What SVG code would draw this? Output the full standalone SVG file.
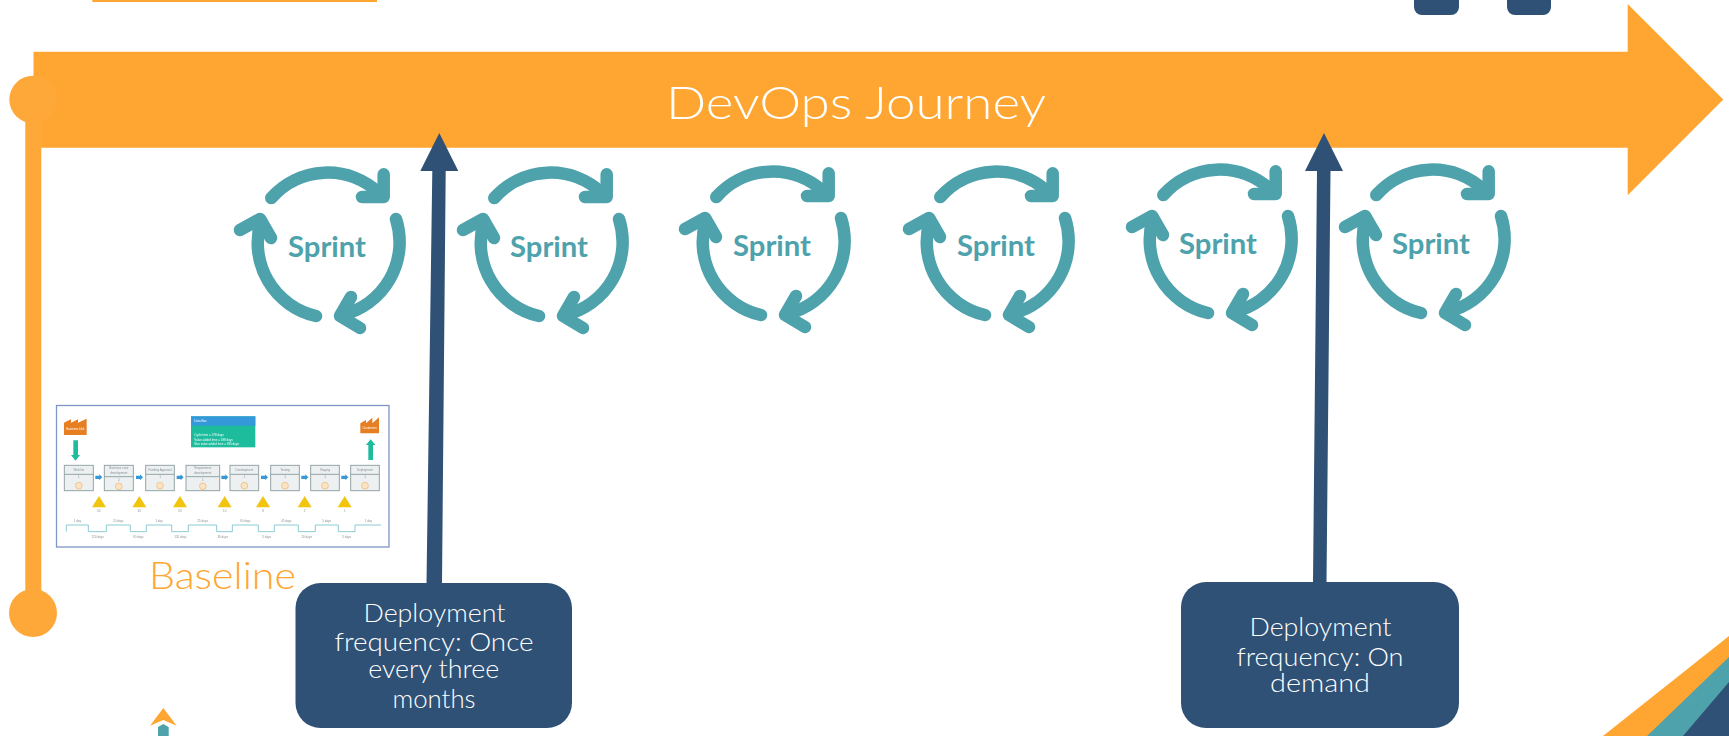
<svg xmlns="http://www.w3.org/2000/svg" xmlns:xlink="http://www.w3.org/1999/xlink" width="1729" height="736" viewBox="0 0 1729 736">
<style>
.or{fill:#FFA632}.nv{fill:#2F5176}.tl{fill:#4EA2AC}
.lab{font-family:"Lato","Noto Sans","Liberation Sans",sans-serif;font-weight:300;text-anchor:middle}
.w{fill:#fff;font-size:25px}
.spr{font-family:"Lato","Liberation Sans",sans-serif;font-weight:700;font-size:28px;fill:#4EA2AC;text-anchor:middle}
.ring{fill:none;stroke:#4EA2AC;stroke-width:12.5;stroke-linecap:round;stroke-linejoin:round}
.pb{fill:#ECF0F1;stroke:#95A5A6;stroke-width:3}
.pl{fill:none;stroke:#95A5A6;stroke-width:3}
.t{font-family:"Liberation Sans",sans-serif;font-size:9px;fill:#8a9396;text-anchor:middle}
.dt{font-family:"Liberation Sans",sans-serif;font-size:9px;fill:#fff}
.sm{fill:#F1C40F}.ba{fill:#3498DB}.gr{fill:#1ABC9C}.fa{fill:#E67E22}
.kn{fill:#FCE3C4;stroke:#F0C48C;stroke-width:3}
</style>
<defs>
<g id="ring">
<path class="ring" d="M-55.7-49A75 75 0 0 1 52-54"/><path class="ring" d="M56.7-72.7V-50H35"/>
<path class="ring" d="M69-28A75 75 0 0 1 15 68"/><path class="ring" d="M24 50L13 69L33 81"/>
<path class="ring" d="M-11 69A75 75 0 0 1-66-26"/><path class="ring" d="M-87-17L-67-28L-56-9"/>
</g>
<filter id="soft" x="-2%" y="-2%" width="104%" height="104%"><feGaussianBlur stdDeviation="1.6"/></filter>
</defs>

<g id="top-bar"><rect class="or" x="92.3" y="0" width="284.7" height="2"/></g>
<g id="top-box-1"><rect class="nv" x="1414" y="-20" width="45" height="35" rx="8"/></g>
<g id="top-box-2"><rect class="nv" x="1507" y="-20" width="44" height="35" rx="8"/></g>

<g id="journey-arrow">
<path class="or" d="M33.5 51.7H1627.7V4L1723.3 99.5L1627.7 195.3V147.7H33.5Z"/>
<text class="lab" x="856" y="118.500" font-size="46" fill="#fff" textLength="380" lengthAdjust="spacingAndGlyphs">DevOps Journey</text>
</g>

<g id="timeline">
<rect x="25.3" y="110" width="16" height="503" fill="#FFA83A"/>
<circle cx="33" cy="99.5" r="23.7" fill="#FFA83A"/>
<circle cx="33" cy="613" r="24" fill="#FFA83A"/>
</g>

<g id="sprint-1"><use xlink:href="#ring" href="#ring" x="327" y="247"/><text class="spr" x="327" y="257" textLength="78" lengthAdjust="spacingAndGlyphs">Sprint</text></g>
<g id="sprint-2"><use xlink:href="#ring" href="#ring" x="550" y="247"/><text class="spr" x="549" y="257" textLength="78" lengthAdjust="spacingAndGlyphs">Sprint</text></g>
<g id="sprint-3"><use xlink:href="#ring" href="#ring" x="772" y="246"/><text class="spr" x="772" y="256" textLength="78" lengthAdjust="spacingAndGlyphs">Sprint</text></g>
<g id="sprint-4"><use xlink:href="#ring" href="#ring" x="996" y="246"/><text class="spr" x="996" y="256" textLength="78" lengthAdjust="spacingAndGlyphs">Sprint</text></g>
<g id="sprint-5"><use xlink:href="#ring" href="#ring" x="1219" y="244"/><text class="spr" x="1218" y="254" textLength="78" lengthAdjust="spacingAndGlyphs">Sprint</text></g>
<g id="sprint-6"><use xlink:href="#ring" href="#ring" x="1432" y="244"/><text class="spr" x="1431" y="254" textLength="78" lengthAdjust="spacingAndGlyphs">Sprint</text></g>

<g id="connectors">
<path class="nv" d="M439.3 133L458.3 171H445.7L442 583H426.5L432.3 171H420.3Z"/>
<path class="nv" d="M1324 133L1343 171H1330.5L1326.5 582H1313L1317 171H1305Z"/>
</g>

<g id="deploy-box-1">
<rect class="nv" x="295.5" y="583" width="276.5" height="145" rx="25"/>
<text class="lab w" x="434.500" y="622" textLength="142" lengthAdjust="spacingAndGlyphs">Deployment</text>
<text class="lab w" x="434" y="651" textLength="199" lengthAdjust="spacingAndGlyphs">frequency: Once</text>
<text class="lab w" x="433.700" y="678" textLength="131" lengthAdjust="spacingAndGlyphs">every three</text>
<text class="lab w" x="434" y="708" textLength="83" lengthAdjust="spacingAndGlyphs">months</text>
</g>
<g id="deploy-box-2">
<rect class="nv" x="1181" y="582" width="278" height="146" rx="25"/>
<text class="lab w" x="1320.500" y="636" textLength="142" lengthAdjust="spacingAndGlyphs">Deployment</text>
<text class="lab w" x="1320" y="665.500" textLength="167" lengthAdjust="spacingAndGlyphs">frequency: On</text>
<text class="lab w" x="1320" y="691.500" textLength="100" lengthAdjust="spacingAndGlyphs">demand</text>
</g>

<g id="baseline-map">
<rect x="56.5" y="405.5" width="332.5" height="141.5" fill="#fff" stroke="#7F96C4" stroke-width="1.3"/>
<g transform="translate(40 390) scale(.33333)" filter="url(#soft)">
<g id="supplier"><path class="fa" d="M72 135V98L93 88V98L114 88V98L140 86V135Z"/><text class="dt" x="106" y="119" style="text-anchor:middle">Business Unit</text></g>
<g id="customer"><path class="fa" d="M961 130V100L978 90V100L997 83V100L1017 82V130Z"/><text class="dt" x="989" y="116" style="text-anchor:middle">Customers</text></g>
<path class="gr" d="M100 151H114V195H120L106.500 212L93 195H100Z"/>
<path class="gr" d="M985 210V165H978L992 148L1006 165H999V210Z"/>
<g id="data-box"><rect x="453" y="79" width="193" height="93" class="gr"/><rect x="453" y="79" width="193" height="28" class="ba"/>
<text class="dt" x="463" y="95">Data Box</text><text class="dt" x="463" y="139">Cycle time = 578 days</text><text class="dt" x="463" y="152">Value added time = 188 days</text><text class="dt" x="463" y="165">Non value added time = 390 days</text></g>

<g id="step-1"><rect class="pb" x="73" y="226" width="87" height="76"/><path class="pl" d="M73 253H160"/><circle class="kn" cx="116.500" cy="287" r="10"/><text class="t" x="116.500" y="244">Web list</text><text class="t" x="116.500" y="264">1</text></g>
<g id="step-2"><rect class="pb" x="193" y="226" width="87" height="76"/><path class="pl" d="M193 260H280"/><circle class="kn" cx="236.500" cy="289" r="10"/><text class="t" x="236.500" y="237">Business case</text><text class="t" x="236.500" y="253">development</text><text class="t" x="236.500" y="272">2</text></g>
<g id="step-3"><rect class="pb" x="317" y="226" width="86" height="76"/><path class="pl" d="M317 253H403"/><circle class="kn" cx="360" cy="287" r="10"/><text class="t" x="360" y="244">Funding Approval</text><text class="t" x="360" y="264">1</text></g>
<g id="step-4"><rect class="pb" x="438" y="226" width="101" height="76"/><path class="pl" d="M438 260H539"/><circle class="kn" cx="488.500" cy="289" r="10"/><text class="t" x="488.500" y="237">Requirement</text><text class="t" x="488.500" y="253">development</text><text class="t" x="488.500" y="272">1</text></g>
<g id="step-5"><rect class="pb" x="570" y="226" width="86" height="76"/><path class="pl" d="M570 253H656"/><circle class="kn" cx="613" cy="287" r="10"/><text class="t" x="613" y="244">Development</text><text class="t" x="613" y="264">1</text></g>
<g id="step-6"><rect class="pb" x="692" y="226" width="86" height="76"/><path class="pl" d="M692 253H778"/><circle class="kn" cx="735" cy="287" r="10"/><text class="t" x="735" y="244">Testing</text><text class="t" x="735" y="264">1</text></g>
<g id="step-7"><rect class="pb" x="812" y="226" width="86" height="76"/><path class="pl" d="M812 253H898"/><circle class="kn" cx="855" cy="287" r="10"/><text class="t" x="855" y="244">Staging</text><text class="t" x="855" y="264">1</text></g>
<g id="step-8"><rect class="pb" x="932" y="226" width="86" height="76"/><path class="pl" d="M932 253H1018"/><circle class="kn" cx="975" cy="287" r="10"/><text class="t" x="975" y="244">Deployment</text><text class="t" x="975" y="264">1</text></g>

<g id="flow-arrows" class="ba">
<path d="M166 257H178V253L187 262L178 271V267H166Z"/><path d="M288 257H300V253L309 262L300 271V267H288Z"/><path d="M410 257H422V253L431 262L422 271V267H410Z"/><path d="M544 257H556V253L565 262L556 271V267H544Z"/><path d="M663 257H675V253L684 262L675 271V267H663Z"/><path d="M784 257H796V253L805 262L796 271V267H784Z"/><path d="M904 257H916V253L925 262L916 271V267H904Z"/>
</g>
<g id="inventory" class="sm">
<path d="M177 318L198 352H156Z"/><path d="M298 318L319 352H277Z"/><path d="M420 318L441 352H399Z"/><path d="M554 318L575 352H533Z"/><path d="M669 318L690 352H648Z"/><path d="M794 318L815 352H773Z"/><path d="M914 318L935 352H893Z"/>
</g>
<g id="inventory-labels">
<text class="t" x="177" y="367">65</text><text class="t" x="298" y="367">45</text><text class="t" x="420" y="367">20</text><text class="t" x="554" y="367">10</text><text class="t" x="669" y="367">8</text><text class="t" x="794" y="367">2</text><text class="t" x="914" y="367">1</text>
</g>
<path id="ladder" d="M79 425V405H145V425H199V405H271V425H319V405H395V425H445V405H530V425H577V405H655V425H703V405H775V425H826V405H895V425H945V405H1023" fill="none" stroke="#8CCBD3" stroke-width="3"/>
<g id="ladder-labels">
<text class="t" x="112" y="397">1 day</text><text class="t" x="235" y="397">20 days</text><text class="t" x="357" y="397">1 day</text><text class="t" x="488" y="397">25 days</text><text class="t" x="616" y="397">90 days</text><text class="t" x="739" y="397">45 days</text><text class="t" x="860" y="397">5 days</text><text class="t" x="985" y="397">1 day</text>
<text class="t" x="173" y="444">120 days</text><text class="t" x="295" y="444">90 days</text><text class="t" x="421" y="444">120 days</text><text class="t" x="548" y="444">30 days</text><text class="t" x="680" y="444">5 days</text><text class="t" x="800" y="444">20 days</text><text class="t" x="920" y="444">5 days</text>
</g>
</g>
<text class="lab" x="222.500" y="589" font-size="37" fill="#FFA632" textLength="147" lengthAdjust="spacingAndGlyphs">Baseline</text>
</g>

<g id="small-arrow">
<path class="tl" d="M158 736V727L163.300 724L168.700 727V736Z"/>
<path class="or" d="M163.300 708L176.700 725.700L163.300 720L150 725.700Z"/>
</g>

<g id="corner">
<path class="or" d="M1603 736L1729 636V736Z"/>
<path class="tl" d="M1647 736L1729 657V736Z"/>
<path class="nv" d="M1683 736L1729 682V736Z"/>
</g>
</svg>
